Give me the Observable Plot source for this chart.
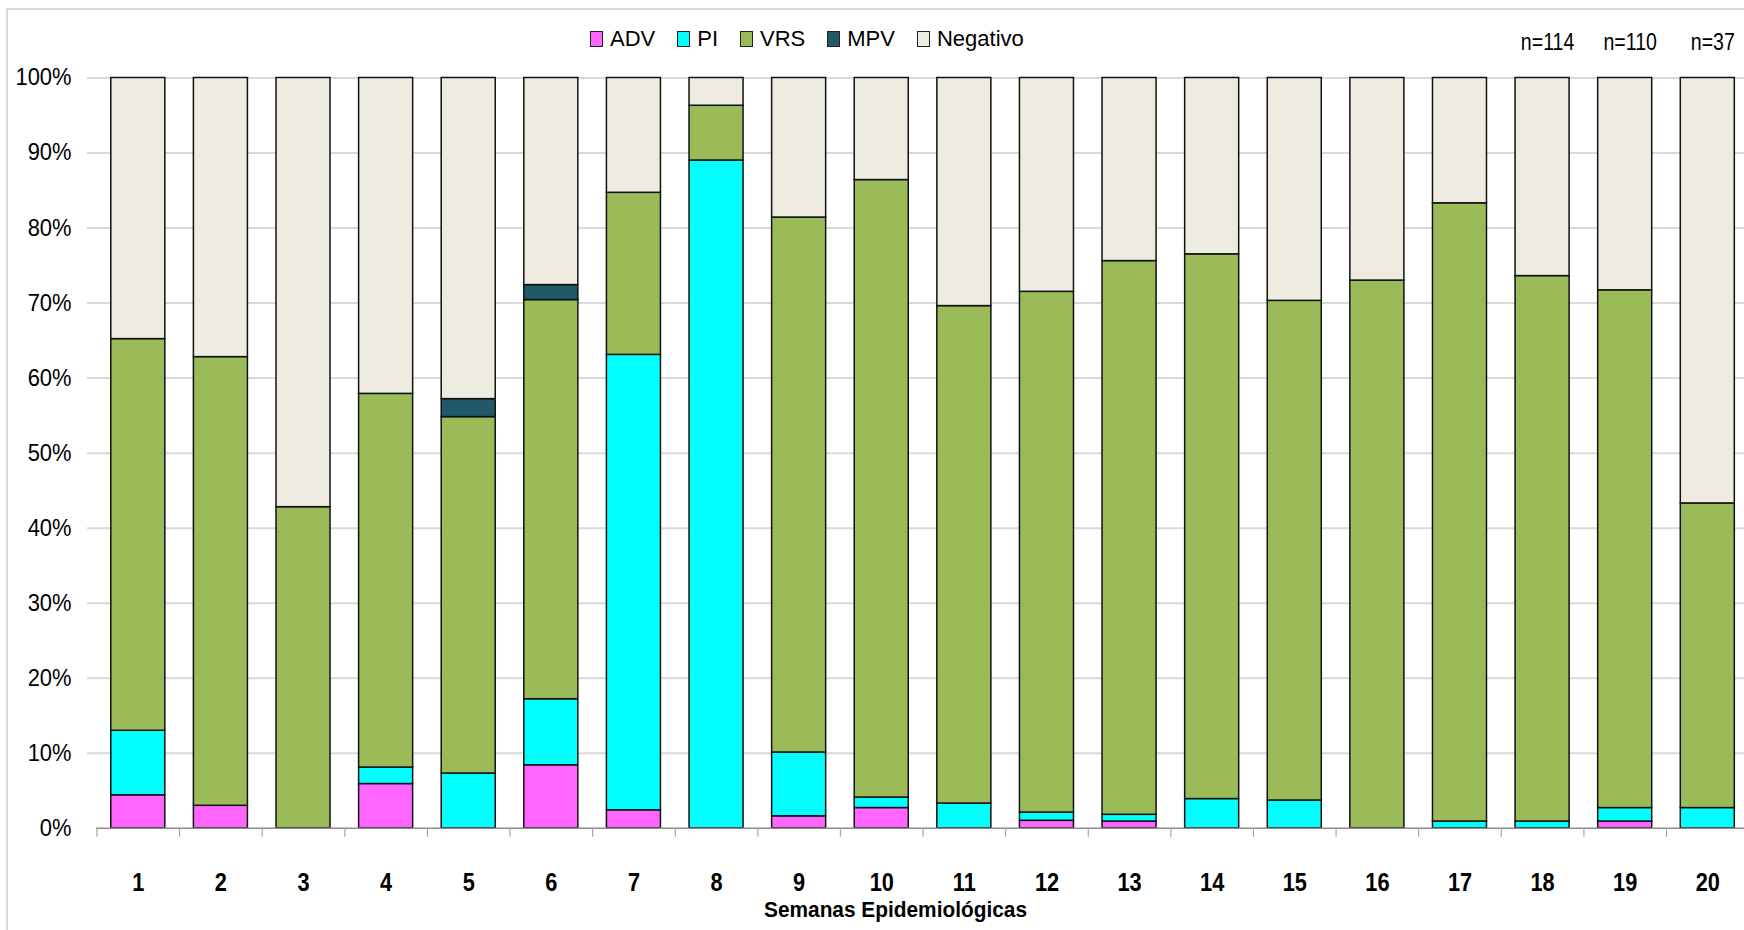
<!DOCTYPE html>
<html>
<head>
<meta charset="utf-8">
<script src="https://cdn.jsdelivr.net/npm/d3@7"></script>
<script src="https://cdn.jsdelivr.net/npm/@observablehq/plot@0.6"></script>
<style>
  body { margin: 0; background: #fff; width: 1744px; height: 930px; overflow: hidden; position: relative; }
  #chart { position: absolute; left: 0; top: 0; }
  #frame { position: absolute; left: 6px; top: 8px; width: 1800px; height: 1000px;
           border-top: 2px solid #d9d9d9; border-left: 2px solid #d9d9d9; pointer-events: none; }
  #legend { position: absolute; left: 590px; top: 28px; display: flex; align-items: center;
            font-family: "Liberation Sans", Arial, sans-serif; font-size: 22px; line-height: 22px; color: #000; }
  #legend .item { display: flex; align-items: center; margin-right: 22px; }
  #legend .sw { width: 11px; height: 14px; border: 1px solid #222; margin-right: 7px; }
</style>
</head>
<body>
<div id="chart"></div>
<div id="frame"></div>
<div id="legend"></div>
<script>
// Epidemiological weeks
const weeks = [1, 2, 3, 4, 5, 6, 7, 8, 9, 10, 11, 12, 13, 14, 15, 16, 17, 18, 19, 20];
// Series (percent of samples per week)
const seriesNames = ["ADV", "PI", "VRS", "MPV", "Negativo"];
const ADV = [4.4, 3.0, 0, 5.9, 0, 8.4, 2.4, 0, 1.6, 2.7, 0, 1.0, 0.9, 0, 0, 0, 0, 0, 0.9, 0];
const PI  = [8.6, 0, 0, 2.2, 7.3, 8.8, 60.7, 89.0, 8.5, 1.4, 3.3, 1.1, 0.9, 3.9, 3.7, 0, 0.9, 0.9, 1.8, 2.7];
const VRS = [52.2, 59.8, 42.8, 49.8, 47.5, 53.2, 21.6, 7.3, 71.3, 82.3, 66.3, 69.4, 73.8, 72.6, 66.6, 73.0, 82.4, 72.7, 69.0, 40.6];
const MPV = [0, 0, 0, 0, 2.4, 2.0, 0, 0, 0, 0, 0, 0, 0, 0, 0, 0, 0, 0, 0, 0];
const NEG = [34.8, 37.2, 57.2, 42.1, 42.8, 27.6, 15.3, 3.7, 18.6, 13.6, 30.4, 28.5, 24.4, 23.5, 29.7, 27.0, 16.7, 26.4, 28.3, 56.7];
const seriesColors = ["#ff66ff", "#00ffff", "#9bbb59", "#215968", "#eeece1"];
// Sample size notes
const nWeeks = [18, 19, 20];
const nLabels = ["n=114", "n=110", "n=37"];
// Y tick values
const yTicks = [0, 10, 20, 30, 40, 50, 60, 70, 80, 90, 100];
const xTitle = "Semanas Epidemiológicas";

const valuesBySeries = [ADV, PI, VRS, MPV, NEG];
const rows = [];
seriesNames.forEach((s, si) => {
  valuesBySeries[si].forEach((v, i) => {
    if (v > 0) rows.push({week: weeks[i], series: s, value: v});
  });
});
const nData = nWeeks.map((w, i) => ({week: w, label: nLabels[i]}));

const font = '"Liberation Sans", Arial, sans-serif';

const W = 1744, H = 930;
const x0 = 96.5, x1 = 1748.6;
const step = (x1 - x0) / weeks.length;

const plot = Plot.plot({
  width: W,
  height: H,
  marginLeft: 96,
  marginRight: 0,
  marginTop: 77.5,
  marginBottom: 102.2,
  style: {fontFamily: font, background: "transparent", overflow: "visible"},
  x: {domain: weeks, range: [x0, x1], paddingInner: 0.346, paddingOuter: 0.173, align: 0.5, round: false, label: null},
  y: {domain: [0, 100], label: null},
  color: {domain: seriesNames, range: seriesColors},
  marks: [
    Plot.ruleY(yTicks.filter(d => d > 0), {y: d => d, stroke: "#d9d9d9", strokeWidth: 2, insetLeft: -9}),
    Plot.barY(rows, {x: "week", y: "value", fill: "series", order: seriesNames, stroke: "#111", strokeWidth: 1.5}),
    Plot.ruleY([0], {stroke: "#8c8c8c", strokeWidth: 1.5}),
    Plot.ruleX(weeks, {x: d => d, y1: 0, y2: 0, insetBottom: -9, dx: -step / 2, stroke: "#a6a6a6", strokeWidth: 1.2}),
    Plot.axisY({ticks: yTicks, tickSize: 0, tickPadding: 25, tickFormat: d => d + "%", fontSize: 23.3, fill: "#000"}),
    Plot.axisX({tickSize: 0, tickPadding: 44, fontSize: 26.5, fontWeight: "bold", fill: "#000", label: null}),
    Plot.text([xTitle], {frameAnchor: "bottom", lineAnchor: "middle", dy: 82, dx: -25, text: d => d, fontSize: 22.3, fontWeight: "bold", fill: "#000", ariaDescription: "xtitle"}),
    Plot.text(nData, {x: "week", text: "label", frameAnchor: "top", lineAnchor: "middle", dy: -35.5, dx: 5, fontSize: 23, fill: "#000", ariaDescription: "nlabels"})
  ]
});
document.getElementById("chart").appendChild(plot);

// Horizontally condense text to mimic the narrow face of the original
function squeeze(selector, f) {
  plot.querySelectorAll(selector).forEach(t => {
    const L = t.getComputedTextLength();
    t.setAttribute("textLength", L * f);
    t.setAttribute("lengthAdjust", "spacingAndGlyphs");
  });
}
squeeze('g[aria-label="x-axis tick label"] text', 0.82);
squeeze('g[aria-label="y-axis tick label"] text', 0.94);
squeeze('g[aria-description="xtitle"] text', 0.935);
squeeze('g[aria-description="nlabels"] text', 0.85);

const legend = document.getElementById("legend");
seriesNames.forEach((s, i) => {
  const item = document.createElement("div");
  item.className = "item";
  const sw = document.createElement("div");
  sw.className = "sw";
  sw.style.background = seriesColors[i];
  const t = document.createElement("span");
  t.textContent = s;
  item.appendChild(sw);
  item.appendChild(t);
  legend.appendChild(item);
});
</script>
</body>
</html>
